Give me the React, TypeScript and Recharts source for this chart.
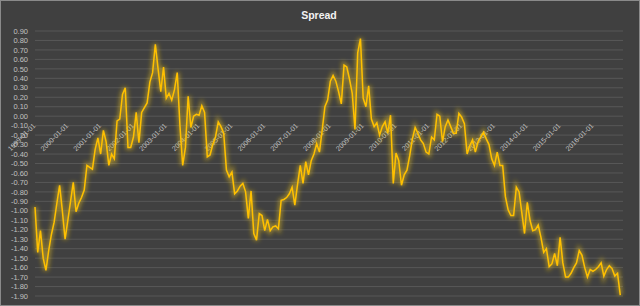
import React from "react";
import { LineChart, Line, XAxis, YAxis, CartesianGrid } from "recharts";

// Monthly spread values, 1999-01 .. 2016-11
const SPREAD = [
  -0.96, -1.44, -1.21, -1.5, -1.63, -1.42, -1.25, -1.12, -0.92, -0.73,
  -1.0, -1.3, -1.1, -0.9, -0.7, -1.01, -0.92, -0.86, -0.78, -0.52,
  -0.54, -0.56, -0.35, -0.23, -0.4, -0.15, -0.27, -0.52, -0.4, -0.45,
  -0.05, -0.03, 0.23, 0.3, -0.33, -0.33, -0.22, 0.04, -0.28, 0.04,
  0.09, 0.14, 0.36, 0.46, 0.76, 0.5, 0.26, 0.52, 0.19, 0.24,
  0.17, 0.28, 0.46, -0.1, -0.52, -0.33, 0.21, -0.12, 0.0, 0.02,
  0.01, 0.11, 0.04, -0.43, -0.41, -0.3, -0.22, -0.06, -0.11, -0.18,
  -0.57, -0.64, -0.59, -0.82, -0.79, -0.74, -0.71, -0.8, -1.08, -0.79,
  -1.24, -1.31, -1.03, -1.05, -1.21, -1.09, -1.21, -1.17, -1.16, -1.19,
  -0.89, -0.88, -0.86, -0.82, -0.75, -0.94, -0.72, -0.52, -0.71, -0.48,
  -0.62, -0.47, -0.4, -0.29, -0.38, -0.15, 0.1, 0.17, 0.37, 0.43,
  0.37, 0.26, 0.13, 0.54, 0.52, 0.39, 0.24, -0.14, 0.67, 0.82,
  0.19, 0.1, 0.32, -0.03, -0.11, -0.07, -0.2, -0.11, -0.06, -0.18,
  0.01, -0.71, -0.39, -0.47, -0.73, -0.62, -0.57, -0.42, -0.24, -0.12,
  -0.18, -0.25, -0.29, -0.38, -0.4, -0.22, -0.25, 0.02, 0.0, -0.27,
  -0.11, -0.04, -0.11, -0.18, -0.18, 0.03, -0.01, -0.08, -0.4, -0.31,
  -0.25, -0.38, -0.27, -0.22, -0.17, -0.24, -0.3, -0.45, -0.52, -0.38,
  -0.52, -0.52, -0.85, -0.99, -1.05, -1.05, -0.75, -0.8, -1.02, -1.24,
  -0.91, -1.1, -1.21, -1.2, -1.15, -1.28, -1.44, -1.4, -1.59, -1.56,
  -1.45, -1.58, -1.28, -1.55, -1.7, -1.7, -1.66, -1.6, -1.55, -1.42,
  -1.47, -1.6, -1.7, -1.62, -1.64, -1.62, -1.59, -1.55, -1.69, -1.62,
  -1.58, -1.61, -1.69, -1.66, -1.89,
];

const X_TICK_INDEX = [0, 12, 24, 36, 48, 60, 72, 84, 96, 108, 120, 132, 144, 156, 168, 180, 192, 204];
const X_TICK_LABELS = [
  "1999-01-01", "2000-01-01", "2001-01-01", "2002-01-01", "2003-01-01", "2004-01-01",
  "2005-01-01", "2006-01-01", "2007-01-01", "2008-01-01", "2009-01-01", "2010-01-01",
  "2011-01-01", "2012-01-01", "2013-01-01", "2014-01-01", "2015-01-01", "2016-01-01",
];
const Y_TICKS = [
  0.9, 0.8, 0.7, 0.6, 0.5, 0.4, 0.3, 0.2, 0.1, 0.0, -0.1, -0.2, -0.3, -0.4, -0.5,
  -0.6, -0.7, -0.8, -0.9, -1.0, -1.1, -1.2, -1.3, -1.4, -1.5, -1.6, -1.7, -1.8, -1.9,
];

const data = SPREAD.map((v, i) => ({ i, v }));

const W = 640;
const H = 306;
const M_TOP = 31;
const M_BOTTOM = 6;
const X_AXIS_H = 4;
const Y_MAX = 0.9;
const Y_MIN = -1.9;
const PLOT_H = H - M_TOP - M_BOTTOM - X_AXIS_H;
const ZERO_Y = M_TOP + ((Y_MAX - 0) / (Y_MAX - Y_MIN)) * PLOT_H;

const XTick = (props: any) => {
  const { x, payload } = props;
  const idx = X_TICK_INDEX.indexOf(payload.value);
  const label = idx >= 0 ? X_TICK_LABELS[idx] : "";
  const ax = x + 1;
  const ay = ZERO_Y + 10;
  return (
    <g>
      <text
        x={ax}
        y={ay}
        textAnchor="end"
        transform={`rotate(-45 ${ax} ${ay})`}
        fontSize={7}
        fontFamily="Liberation Sans, Arial, sans-serif"
        fill="#c4c4c4"
      >
        {label}
      </text>
    </g>
  );
};

export default function App() {
  const lineZ: any = { zIndex: 2000 };
  return (
    <div style={{ position: "relative", width: W, height: H, background: "#404040", overflow: "hidden" }}>
      <style>{`body{margin:0}`}</style>
      <div
        style={{
          position: "absolute",
          top: 9,
          left: 0,
          width: W - 2,
          textAlign: "center",
          fontFamily: "Liberation Sans, Arial, sans-serif",
          fontWeight: "bold",
          fontSize: 10.5,
          lineHeight: "12px",
          color: "#f2f2f2",
        }}
      >
        Spread
      </div>
      <div style={{ position: "absolute", top: 0, left: 0 }}>
        <LineChart width={W} height={H} data={data} margin={{ top: M_TOP, right: 17, bottom: M_BOTTOM, left: 0 }}>
          <defs>
            <filter id="glow" x="-5%" y="-5%" width="110%" height="110%">
              <feGaussianBlur stdDeviation="2" />
            </filter>
          </defs>
          <CartesianGrid vertical={false} stroke="#575757" strokeWidth={1} />
          <XAxis
            type="number"
            dataKey="i"
            domain={[0, 215]}
            ticks={X_TICK_INDEX}
            interval={0}
            axisLine={false}
            tickLine={false}
            height={X_AXIS_H}
            tick={XTick}
          />
          <YAxis
            type="number"
            domain={[Y_MIN, Y_MAX]}
            ticks={Y_TICKS}
            interval={0}
            width={35}
            axisLine={false}
            tickLine={false}
            tickSize={0}
            tickMargin={7}
            tickFormatter={(v: number) => v.toFixed(2)}
            tick={{ fontSize: 7.5, fill: "#c0c0c0", fontFamily: "Liberation Sans, Arial, sans-serif" }}
          />
          <Line
            {...lineZ}
            type="linear"
            dataKey="v"
            stroke="#e8c020"
            strokeOpacity={0.5}
            strokeWidth={5}
            dot={false}
            activeDot={false}
            isAnimationActive={false}
            filter="url(#glow)"
          />
          <Line
            {...lineZ}
            type="linear"
            dataKey="v"
            stroke="#FFC000"
            strokeWidth={1.5}
            dot={false}
            activeDot={false}
            isAnimationActive={false}
          />
        </LineChart>
      </div>
      <div
        style={{
          position: "absolute",
          inset: 0,
          border: "1px solid #8a8a8a",
          pointerEvents: "none",
        }}
      />
    </div>
  );
}
